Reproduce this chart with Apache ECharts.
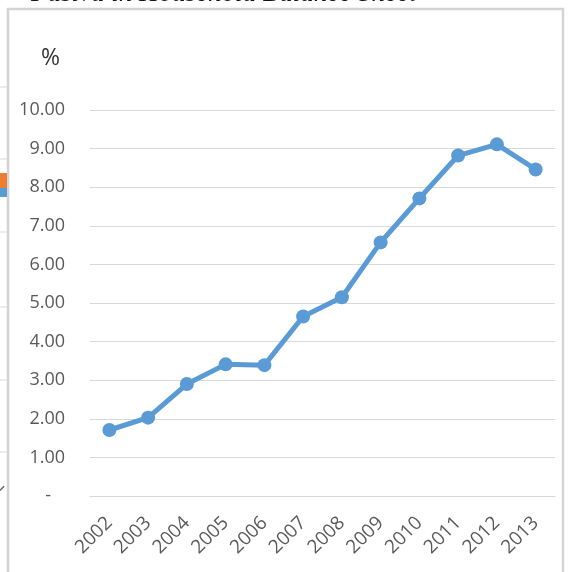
<!DOCTYPE html>
<html>
<head>
<meta charset="utf-8">
<style>
  html, body { margin: 0; padding: 0; background: #fff; }
  #chart { width: 569px; height: 572px; }
</style>
<script src="https://cdn.jsdelivr.net/npm/echarts@6/dist/echarts.min.js"></script>
</head>
<body>
<div id="chart"></div>
<script>
// Share of liabilities (%) by year
const years = ['2002', '2003', '2004', '2005', '2006', '2007', '2008', '2009', '2010', '2011', '2012', '2013'];
const shareValues = [1.71, 2.03, 2.90, 3.41, 3.39, 4.65, 5.15, 6.57, 7.71, 8.82, 9.11, 8.46];
const yTicks = { min: 0, max: 10, step: 1 };

const chart = echarts.init(document.getElementById('chart'), null, { renderer: 'canvas' });

chart.setOption({
  animation: false,
  backgroundColor: '#ffffff',
  grid: { left: 90, right: 14, top: 110, bottom: 76 },
  graphic: [
    // heading of the page section above the chart frame
    { type: 'text', left: 31, top: -20, style: { text: 'Pasiva in Household Balance Sheet', fontFamily: 'Liberation Serif', fontStyle: 'italic', fontWeight: 'normal', fontSize: 27, fill: '#111' } },
    // chart frame
    { type: 'rect', shape: { x: 8, y: 9, width: 555, height: 580 }, style: { fill: 'none', stroke: '#d4d4d4', lineWidth: 2.5 }, z: -1 },
    // edge of the neighbouring panel on the left
    { type: 'line', shape: { x1: 0, y1: 87, x2: 7, y2: 87 }, style: { stroke: '#d9d9d9', lineWidth: 1 } },
    { type: 'line', shape: { x1: 0, y1: 159, x2: 7, y2: 159 }, style: { stroke: '#d9d9d9', lineWidth: 1 } },
    { type: 'line', shape: { x1: 0, y1: 232, x2: 7, y2: 232 }, style: { stroke: '#d9d9d9', lineWidth: 1 } },
    { type: 'line', shape: { x1: 0, y1: 307, x2: 7, y2: 307 }, style: { stroke: '#d9d9d9', lineWidth: 1 } },
    { type: 'line', shape: { x1: 0, y1: 380, x2: 7, y2: 380 }, style: { stroke: '#d9d9d9', lineWidth: 1 } },
    { type: 'line', shape: { x1: 0, y1: 452, x2: 7, y2: 452 }, style: { stroke: '#d9d9d9', lineWidth: 1 } },
    { type: 'rect', shape: { x: 0, y: 173, width: 7, height: 15 }, style: { fill: '#ED7D31' } },
    { type: 'rect', shape: { x: 0, y: 188, width: 7, height: 9 }, style: { fill: '#5B9BD5' } },
    { type: 'text', x: -2, y: 486, rotation: Math.PI / 4, style: { text: '2', fontFamily: 'Open Sans', fontSize: 18, fill: '#595959', align: 'center', verticalAlign: 'middle' } },
    // unit label
    { type: 'text', left: 41, top: 47, style: { text: '%', fontFamily: 'Open Sans', fontSize: 23, fill: '#333' } }
  ],
  xAxis: {
    type: 'category',
    data: years,
    boundaryGap: true,
    axisLine: { show: true, lineStyle: { color: '#d9d9d9', width: 1 } },
    axisTick: { show: false },
    axisLabel: { rotate: 45, margin: 24, color: '#595959', fontFamily: 'Open Sans', fontSize: 19 },
    splitLine: { show: false }
  },
  yAxis: {
    type: 'value',
    min: yTicks.min,
    max: yTicks.max,
    interval: yTicks.step,
    axisLine: { show: false },
    axisTick: { show: false },
    axisLabel: {
      margin: 25,
      color: '#595959',
      fontFamily: 'Open Sans',
      fontSize: 18,
      formatter: v => (v === 0 ? '-   ' : v.toFixed(2))
    },
    splitLine: { lineStyle: { color: '#d9d9d9', width: 1 } }
  },
  series: [{
    type: 'line',
    data: shareValues,
    symbol: 'circle',
    symbolSize: 14,
    lineStyle: { color: '#5B9BD5', width: 5 },
    itemStyle: { color: '#5B9BD5' },
    z: 3
  }]
});
</script>
</body>
</html>
